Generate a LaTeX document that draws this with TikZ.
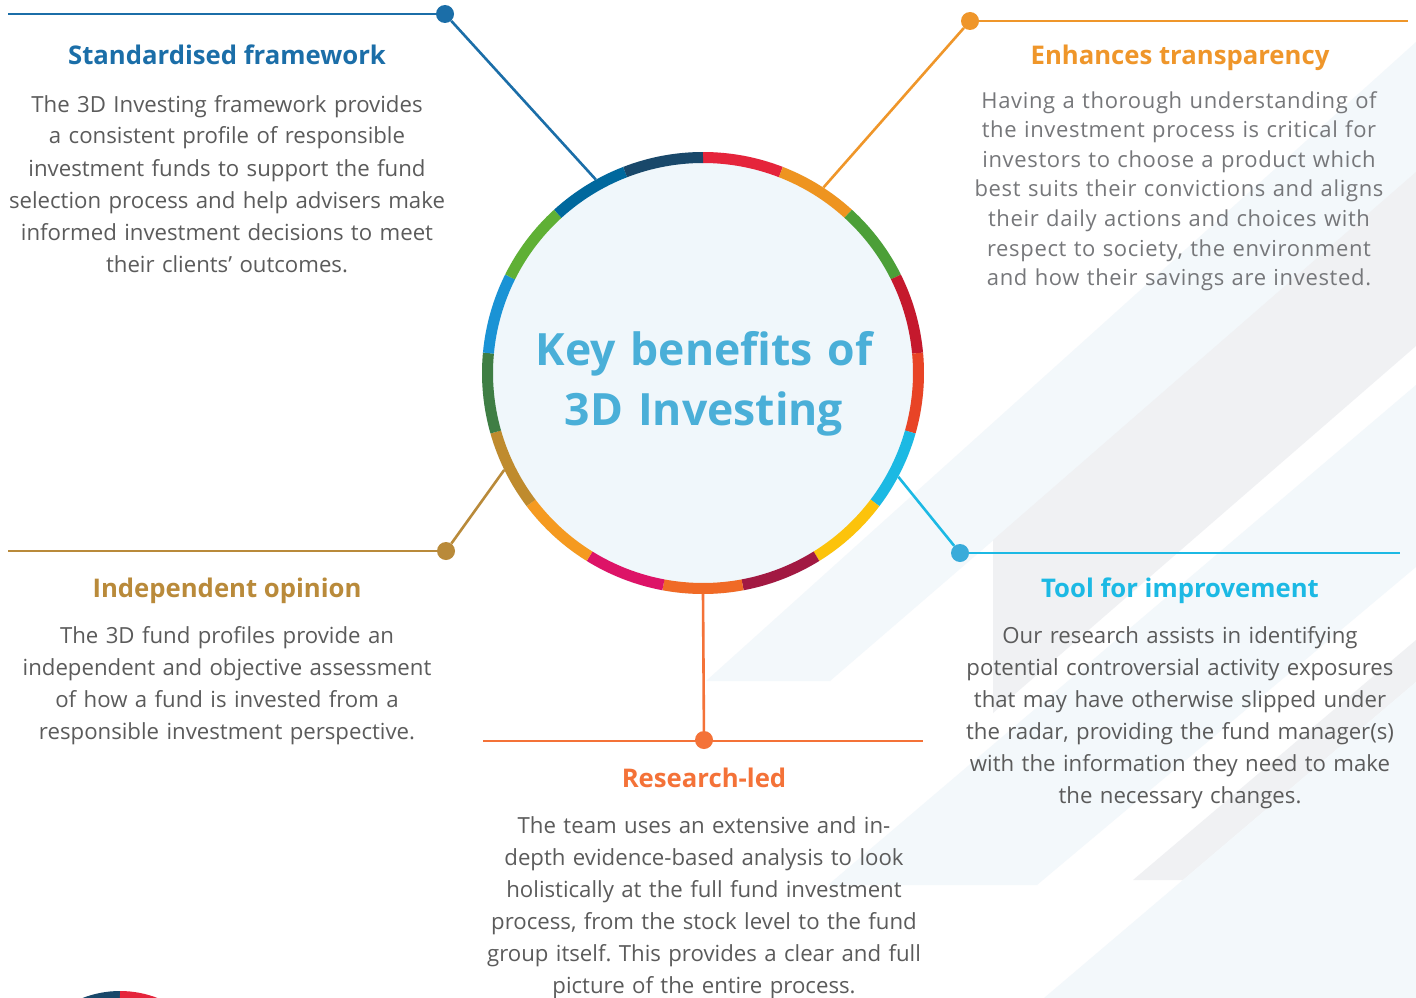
\documentclass[tikz,border=0pt]{standalone}
\usepackage{fontspec}
\setmainfont{Open Sans}
\frenchspacing
\definecolor{stdblue}{HTML}{1B6EA8}
\definecolor{enhorange}{HTML}{EF962A}
\definecolor{indgold}{HTML}{B98A3A}
\definecolor{toolcyan}{HTML}{1CB9E4}
\definecolor{tooldot}{HTML}{39ABDA}
\definecolor{resorange}{HTML}{F47238}
\definecolor{bodygray}{HTML}{5B5B5B}
\definecolor{lightgray}{HTML}{76777A}
\definecolor{centertxt}{HTML}{4AAFD8}
\definecolor{circfill}{HTML}{F0F7FB}
\definecolor{bgblue}{HTML}{F3F8FB}
\definecolor{bggray}{HTML}{F0F1F3}
\definecolor{sdga}{HTML}{E5243B}
\definecolor{sdgb}{HTML}{EE9420}
\definecolor{sdgc}{HTML}{4C9F38}
\definecolor{sdgd}{HTML}{C5192D}
\definecolor{sdge}{HTML}{E84426}
\definecolor{sdgf}{HTML}{1CB9E3}
\definecolor{sdgg}{HTML}{FCC30B}
\definecolor{sdgh}{HTML}{A21942}
\definecolor{sdgi}{HTML}{F06A26}
\definecolor{sdgj}{HTML}{DD1367}
\definecolor{sdgk}{HTML}{F59A20}
\definecolor{sdgl}{HTML}{BF8B2E}
\definecolor{sdgm}{HTML}{3F7E44}
\definecolor{sdgn}{HTML}{1A93D5}
\definecolor{sdgo}{HTML}{5FB035}
\definecolor{sdgp}{HTML}{00689D}
\definecolor{sdgq}{HTML}{19486A}
\tikzset{
  mydot/.style={circle, inner sep=0pt, minimum size=18pt, fill=#1},
  conn/.style={line width=2.6pt, draw=#1},
  ttl/.style={font=\fontsize{25.7}{30}\selectfont\bfseries, text=#1, anchor=base, inner sep=0pt},
  bodytxt/.style={font=\fontsize{22.2}{32}\selectfont, text=bodygray, align=center, text width=540pt, anchor=base, inner sep=0pt},
}
\begin{document}
\begin{tikzpicture}[x=1pt,y=-1pt]
\useasboundingbox (0,0) rectangle (1416,998);
\fill[white] (0,0) rectangle (1416,998);
% background stripes
\fill[bgblue] (706,681) -- (830,681) -- (1416,176) -- (1416,42) -- cycle;
\fill[bggray] (993,540) -- (1416,172) -- (1416,346) -- (993,713) -- cycle;
\fill[bgblue] (828,885) -- (1037,885) -- (1416,567) -- (1416,385) -- cycle;
\fill[bggray] (1133,880) -- (1183,880) -- (1416,682) -- (1416,640) -- cycle;
\fill[bgblue] (1044,998) -- (1416,998) -- (1416,682) -- cycle;

% central circle
\node[circle, inner sep=0pt, minimum size=442pt, fill=circfill] (c) at (703,373) {};
\begin{scope}[shift={(703,373)}, y=1pt]
\foreach \col [count=\i] in {sdga,sdgb,sdgc,sdgd,sdge,sdgf,sdgg,sdgh,sdgi,sdgj,sdgk,sdgl,sdgm,sdgn,sdgo,sdgp,sdgq}{
  \pgfmathsetmacro\sa{90-(\i-1)*360/17}
  \pgfmathsetmacro\sb{90-\i*360/17}
  \draw[line width=11pt, \col] (\sa:215.5) arc[start angle=\sa, end angle=\sb, radius=215.5];
}
\end{scope}
\node[font=\fontsize{44.5}{60}\selectfont\bfseries, text=centertxt, align=center, text width=440pt, anchor=base, inner sep=0pt] (ctext) at (704,365) {Key benefits of\\3D Investing};

% dots and free ends
\node[mydot=stdblue] (d1) at (445,14) {};
\node[mydot=enhorange] (d2) at (970,21) {};
\node[mydot=indgold] (d3) at (446,551) {};
\node[mydot=tooldot] (d4) at (960,553) {};
\node[mydot=resorange] (d5) at (704,740) {};
\coordinate (e1) at (8,14);
\coordinate (e2) at (1408,21);
\coordinate (e3) at (8,551);
\coordinate (e4) at (1400,553);
\coordinate (e5a) at (483,741);
\coordinate (e5b) at (923,741);

\draw[conn=stdblue] (e1) -- (d1);
\draw[conn=stdblue] (d1) -- (c.119.7);
\draw[conn=enhorange] (d2) -- (e2);
\draw[conn=enhorange] (d2) -- (c.57.4);
\draw[conn=indgold] (e3) -- (d3);
\draw[conn=indgold] (d3) -- (c.206.3);
\draw[conn=toolcyan] (d4) -- (e4);
\draw[conn=toolcyan] (d4) -- (c.-28.4);
\draw[conn=resorange] (e5a) -- (e5b);
\draw[conn=resorange] (c.-90) -- (d5);

% titles
\node[ttl=stdblue] (t1) at (227,65) {Standardised framework};
\node[ttl=enhorange] (t2) at (1180,65) {Enhances transparency};
\node[ttl=indgold] (t3) at (227,597) {Independent opinion};
\node[ttl=toolcyan] (t4) at (1180,597) {Tool for improvement};
\node[ttl=resorange] (t5) at (704,787) {Research-led};

% bodies
\node[bodytxt] (b1) at (227,112) {The 3D Investing framework provides\\a consistent profile of responsible\\investment funds to support the fund\\selection process and help advisers make\\informed investment decisions to meet\\their clients’ outcomes.};
\node[bodytxt, text=lightgray, font=\fontsize{22}{29.6}\selectfont\addfontfeatures{LetterSpace=3}] (b2) at (1179,108) {Having a thorough understanding of\\the investment process is critical for\\investors to choose a product which\\best suits their convictions and aligns\\their daily actions and choices with\\respect to society, the environment\\and how their savings are invested.};
\node[bodytxt] (b3) at (227,643) {The 3D fund profiles provide an\\independent and objective assessment\\of how a fund is invested from a\\responsible investment perspective.};
\node[bodytxt] (b4) at (1180,643) {Our research assists in identifying\\potential controversial activity exposures\\that may have otherwise slipped under\\the radar, providing the fund manager(s)\\with the information they need to make\\the necessary changes.};
\node[bodytxt] (b5) at (704,833) {The team uses an extensive and in-\\depth evidence-based analysis to look\\holistically at the full fund investment\\process, from the stock level to the fund\\group itself. This provides a clear and full\\picture of the entire process.};

% partial ring at bottom left
\begin{scope}[shift={(120,1095)}, y=1pt]
\draw[line width=8pt, sdgq] (90:100) arc[start angle=90, end angle=112, radius=100];
\draw[line width=8pt, sdga] (68:100) arc[start angle=68, end angle=90, radius=100];
\end{scope}
\end{tikzpicture}
\end{document}
